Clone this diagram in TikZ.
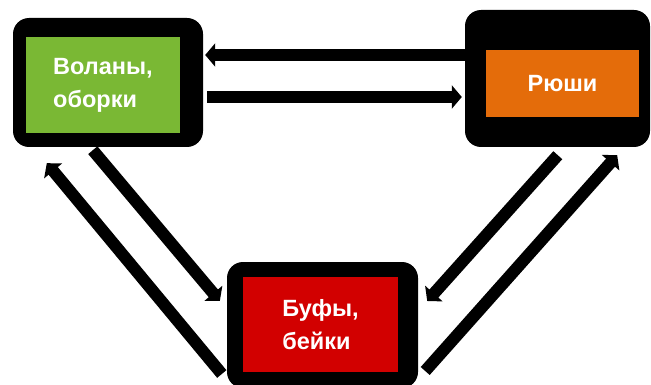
\documentclass[tikz,border=0pt]{standalone}
\usepackage{fontspec}
\setmainfont{Liberation Sans}
\usetikzlibrary{arrows.meta}
\definecolor{boxgreen}{RGB}{122,184,52}
\definecolor{boxorange}{RGB}{228,108,10}
\definecolor{boxred}{RGB}{210,0,0}
\tikzset{
  frame/.style={fill=black, rounded corners=16pt, inner sep=0pt},
  panel/.style={inner sep=0pt, text=white, align=left,
    font=\fontsize{23.5pt}{33pt}\selectfont\bfseries},
  flow/.style={line width=12pt, -{Triangle[length=10pt,width=23pt]}}
}
\begin{document}
\begin{tikzpicture}[x=1pt,y=-1pt]
\useasboundingbox (0,0) rectangle (651,385);
% black frames
\node[frame, minimum width=190pt, minimum height=129pt] (gframe) at (108,82.5) {};
\node[frame, minimum width=185pt, minimum height=137pt] (oframe) at (557.5,78.5) {};
\node[frame, minimum width=191pt, minimum height=126pt] (rframe) at (322.5,325) {};
% coloured panels with labels
\node[panel, fill=boxgreen, minimum width=154pt, minimum height=96pt] (green) at (103,85) {Воланы,\\оборки};
\node[panel, fill=boxorange, minimum width=153pt, minimum height=67pt] (orange) at (562.5,83.5) {Рюши};
\node[panel, fill=boxred, minimum width=155pt, minimum height=95pt] (red) at (320.5,324.5) {Буфы,\\бейки};
% horizontal pair
\draw[flow] ([yshift=23.5pt]oframe.west) -- ([xshift=2pt,yshift=27.5pt]gframe.east);
\draw[flow] ([xshift=4pt,yshift=-14.5pt]gframe.east) -- ([xshift=-3pt,yshift=-18.5pt]oframe.west);
% left pair
\draw[flow] ([xshift=80pt,yshift=-3pt]gframe.south west) -- ([xshift=-7pt,yshift=24pt]rframe.west);
\draw[flow] ([xshift=-5pt,yshift=-49pt]rframe.west) -- ([xshift=34pt,yshift=-16pt]gframe.south west);
% right pair
\draw[flow] ([xshift=93pt,yshift=-8pt]oframe.south west) -- ([xshift=9pt,yshift=24pt]rframe.east);
\draw[flow] ([xshift=7pt,yshift=-46pt]rframe.east) -- ([xshift=-33pt,yshift=-8pt]oframe.south east);
\end{tikzpicture}
\end{document}
